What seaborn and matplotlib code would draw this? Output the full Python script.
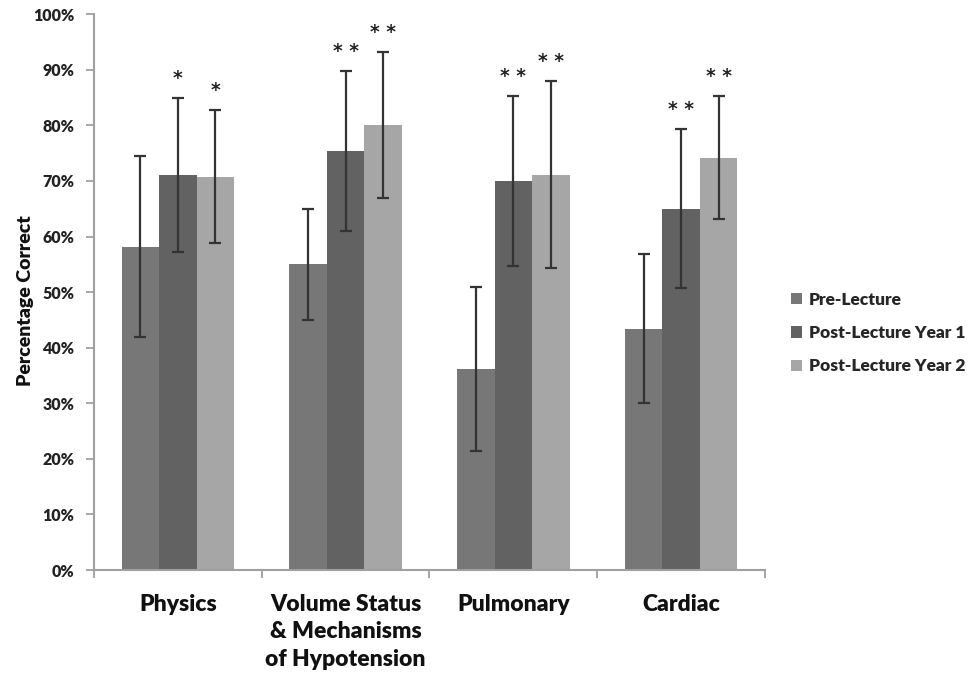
import matplotlib
matplotlib.use("Agg")
import matplotlib.pyplot as plt
import seaborn as sns
import pandas as pd
import numpy as np

categories = ["Physics", "Volume Status\n& Mechanisms\nof Hypotension", "Pulmonary", "Cardiac"]
groups = ["Pre-Lecture", "Post-Lecture Year 1", "Post-Lecture Year 2"]
pre_vals = [58.2, 55.0, 36.2, 43.4]
y1_vals = [71.1, 75.4, 70.0, 65.0]
y2_vals = [70.8, 80.1, 71.1, 74.2]
pre_err = [16.3, 10.0, 14.8, 13.4]
y1_err = [13.9, 14.4, 15.3, 14.3]
y2_err = [12.0, 13.1, 16.8, 11.0]
y1_sig = ["*", "* *", "* *", "* *"]
y2_sig = ["*", "* *", "* *", "* *"]
colors = ["#777777", "#626262", "#a6a6a6"]

rows = []
for g, vals, errs, sig in zip(groups, [pre_vals, y1_vals, y2_vals],
                              [pre_err, y1_err, y2_err], [None, y1_sig, y2_sig]):
    for i, c in enumerate(categories):
        rows.append({"Category": c, "Group": g, "Value": vals[i], "Err": errs[i],
                     "Sig": "" if sig is None else sig[i]})
df = pd.DataFrame(rows)

sns.set_style("white")
plt.rcParams["font.family"] = ["Lato", "DejaVu Sans"]
plt.rcParams["font.weight"] = "bold"

fig = plt.figure(figsize=(9.71, 6.77), dpi=100)
ax = fig.add_axes([0.0968, 0.158, 0.691, 0.821])

sns.barplot(data=df, x="Category", y="Value", hue="Group", palette=colors,
            width=0.67, errorbar=None, ax=ax, saturation=1, linewidth=0,
            order=categories, hue_order=groups)

bars = [p for p in ax.patches if p.get_height() > 0]
for gi, g in enumerate(groups):
    sub = df[df["Group"] == g].reset_index(drop=True)
    for ci in range(len(categories)):
        p = bars[gi * len(categories) + ci]
        xc = p.get_x() + p.get_width() / 2
        v = sub.loc[ci, "Value"]
        e = sub.loc[ci, "Err"]
        ax.errorbar(xc, v, yerr=e, fmt="none", ecolor="#333333", elinewidth=1.6,
                    capsize=4, capthick=1.6)
        s = sub.loc[ci, "Sig"]
        if s:
            ax.text(xc, v + e + 1.8, s, ha="center", va="bottom", fontsize=13.5,
                    color="#222222", family="DejaVu Sans", fontweight="bold")

ax.set_ylim(0, 100)
ax.set_xlim(-0.5, 3.5)
ax.set_yticks(np.arange(0, 101, 10))
ax.set_yticklabels([f"{t}%" for t in range(0, 101, 10)], fontsize=11.5, fontweight="heavy", color="#222222")
ax.set_xticks(range(len(categories)))
ax.set_xticklabels(categories, fontsize=16.5, fontweight="heavy", color="#111111", linespacing=1.4)
ax.tick_params(axis="x", which="major", length=0, pad=17)
ax.set_xticks(np.arange(-0.5, 4, 1), minor=True)
ax.tick_params(axis="x", which="minor", length=6, width=1.3, color="#a0a0a0", direction="out", bottom=True)
ax.tick_params(axis="y", length=6, width=1.3, color="#a0a0a0", direction="out", left=True, pad=8)
ax.set_xlabel("")
ax.set_ylabel("Percentage Correct", fontsize=14, fontweight="heavy", color="#111111")
ax.yaxis.set_label_coords(-0.09, 0.484)

for sp in ["top", "right"]:
    ax.spines[sp].set_visible(False)
for sp in ["left", "bottom"]:
    ax.spines[sp].set_color("#a0a0a0")
    ax.spines[sp].set_linewidth(1.5)

handles, labels = ax.get_legend_handles_labels()
ax.legend(handles, labels, loc="center left", bbox_to_anchor=(0.811, 0.508),
          bbox_transform=fig.transFigure, frameon=False,
          handlelength=0.65, handleheight=0.65, handletextpad=0.4, labelspacing=1.0,
          borderpad=0.2, borderaxespad=0.0,
          prop={"weight": "heavy", "size": 12.5})

fig.savefig("out.png", dpi=100)
